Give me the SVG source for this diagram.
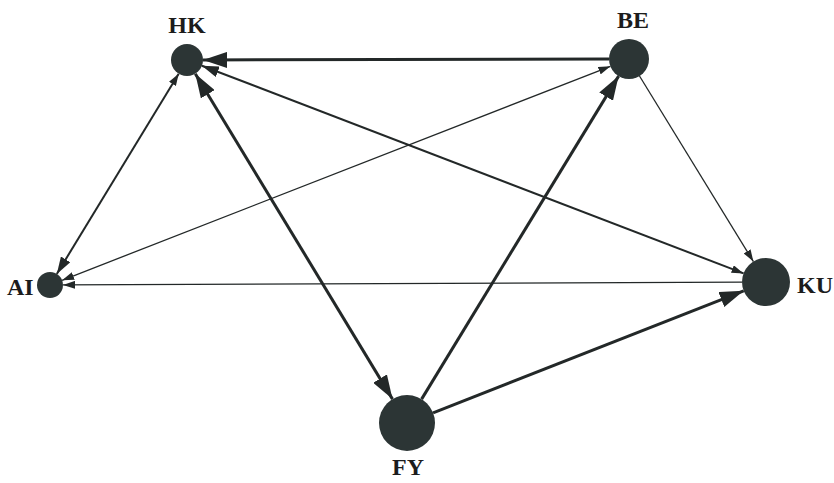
<svg xmlns="http://www.w3.org/2000/svg" width="834" height="483" viewBox="0 0 834 483">
  <style>
    .node { fill: #2c3535; }
    .label { font-family: "Liberation Serif", "Times New Roman", serif; font-weight: bold; font-size: 24px; fill: #1c1c1c; }
    .edge { fill: none; stroke: #232828; }
    .thick { stroke-width: 3; }
    .mid { stroke-width: 2; }
    .thin { stroke-width: 1.3; }
  </style>
  <defs>
    <marker id="arrowBig" markerUnits="userSpaceOnUse" markerWidth="24" markerHeight="16" refX="24" refY="8" orient="auto-start-reverse">
      <path d="M0,0 L24,8 L0,16 z" fill="#232828"/>
    </marker>
    <marker id="arrowMid" markerUnits="userSpaceOnUse" markerWidth="17" markerHeight="11" refX="17" refY="5.5" orient="auto-start-reverse">
      <path d="M0,0 L17,5.5 L0,11 z" fill="#232828"/>
    </marker>
    <marker id="arrowSmall" markerUnits="userSpaceOnUse" markerWidth="12" markerHeight="8" refX="12" refY="4" orient="auto-start-reverse">
      <path d="M0,0 L12,4 L0,8 z" fill="#232828"/>
    </marker>
  </defs>

  <rect width="834" height="483" fill="#ffffff"/>

  <g id="connectors">
    <!-- BE -> HK -->
    <line class="edge thick" x1="609" y1="59" x2="203" y2="60" marker-end="url(#arrowBig)"/>
    <!-- HK <-> FY -->
    <line class="edge thick" x1="195.3" y1="73.7" x2="392.5" y2="399.1" marker-start="url(#arrowBig)" marker-end="url(#arrowBig)"/>
    <!-- HK <-> AI -->
    <line class="edge mid" x1="178.7" y1="73.7" x2="56.8" y2="273.9" marker-start="url(#arrowSmall)" marker-end="url(#arrowMid)"/>
    <!-- HK <-> KU -->
    <line class="edge mid" x1="201.9" y1="65.7" x2="743.6" y2="273.4" marker-start="url(#arrowMid)" marker-end="url(#arrowSmall)"/>
    <!-- BE <-> AI -->
    <line class="edge thin" x1="610.4" y1="66.3" x2="62.1" y2="280.3" marker-start="url(#arrowSmall)" marker-end="url(#arrowSmall)"/>
    <!-- BE -> KU -->
    <line class="edge thin" x1="639.5" y1="76" x2="753.4" y2="261.6" marker-end="url(#arrowSmall)"/>
    <!-- KU -> AI -->
    <line class="edge thin" x1="742" y1="282.1" x2="63" y2="284.9" marker-end="url(#arrowSmall)"/>
    <!-- FY -> BE -->
    <line class="edge thick" x1="421.6" y1="399.1" x2="618.6" y2="76.1" marker-end="url(#arrowBig)"/>
    <!-- FY -> KU -->
    <line class="edge thick" x1="433.1" y1="412.8" x2="743.7" y2="290.8" marker-end="url(#arrowBig)"/>
  </g>

  <g id="HK">
    <circle class="node" cx="187" cy="60" r="16"/>
    <text class="label" x="187" y="33" text-anchor="middle">HK</text>
  </g>
  <g id="BE">
    <circle class="node" cx="629" cy="59" r="20"/>
    <text class="label" x="633" y="28" text-anchor="middle">BE</text>
  </g>
  <g id="AI">
    <circle class="node" cx="50" cy="285" r="13"/>
    <text class="label" x="7" y="295">AI</text>
  </g>
  <g id="KU">
    <circle class="node" cx="766" cy="282" r="24"/>
    <text class="label" x="797" y="293">KU</text>
  </g>
  <g id="FY">
    <circle class="node" cx="407" cy="423" r="28"/>
    <text class="label" x="408" y="475" text-anchor="middle">FY</text>
  </g>
</svg>
